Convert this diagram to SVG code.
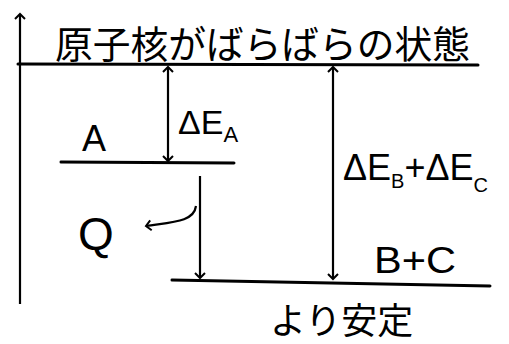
<svg xmlns="http://www.w3.org/2000/svg" width="509" height="344" viewBox="0 0 509 344">
<defs>
<marker id="ah" viewBox="0 0 12 12" refX="6" refY="6" markerWidth="12" markerHeight="12" markerUnits="userSpaceOnUse" orient="auto-start-reverse">
<path d="M1,1 L6,6 L1,11" fill="none" stroke="#000" stroke-width="2"/>
</marker>
</defs>
<style>
.ln{stroke:#000;stroke-width:3;fill:none;stroke-linecap:round}
.ar{stroke:#000;stroke-width:2.2;fill:none;marker-end:url(#ah)}
.dar{stroke:#000;stroke-width:2.2;fill:none;marker-start:url(#ah);marker-end:url(#ah)}
.t{font-family:"Liberation Sans","Noto Sans CJK JP",sans-serif;fill:#000}
</style>
<rect width="509" height="344" fill="#fff"/>
<g id="axis">
<line class="ar" x1="20" y1="304" x2="20" y2="14"/>
</g>
<g id="level-top">
<line class="ln" x1="18" y1="64" x2="478" y2="65"/>
<text class="t" x="55" y="58" font-size="38" textLength="415" lengthAdjust="spacingAndGlyphs">原子核がばらばらの状態</text>
</g>
<g id="level-A">
<line class="ln" x1="61" y1="162" x2="234" y2="163"/>
<text class="t" x="82" y="151" font-size="36">A</text>
</g>
<g id="level-BC">
<line class="ln" x1="172" y1="280" x2="490" y2="286"/>
<text class="t" x="374" y="273" font-size="36" textLength="82" lengthAdjust="spacingAndGlyphs">B+C</text>
<text class="t" x="270" y="334" font-size="36">より安定</text>
</g>
<g id="Q">
<text class="t" x="78" y="250" font-size="46">Q</text>
</g>
<g id="connectors">
<line class="dar" x1="168" y1="67" x2="168" y2="161"/>
<line class="ar" x1="200" y1="176" x2="200" y2="278"/>
<path class="ar" d="M196,206 C194,222 172,222 146,226"/>
<line class="dar" x1="333" y1="67" x2="333" y2="279"/>
</g>
<g id="labels">
<text class="t" x="178" y="134" font-size="34">ΔE<tspan font-size="22" dy="8">A</tspan></text>
<text class="t" x="343" y="180" font-size="36">ΔE<tspan font-size="20" dy="8">B</tspan><tspan dy="-8">+ΔE</tspan><tspan font-size="20" dy="12">C</tspan></text>
</g>
</svg>
